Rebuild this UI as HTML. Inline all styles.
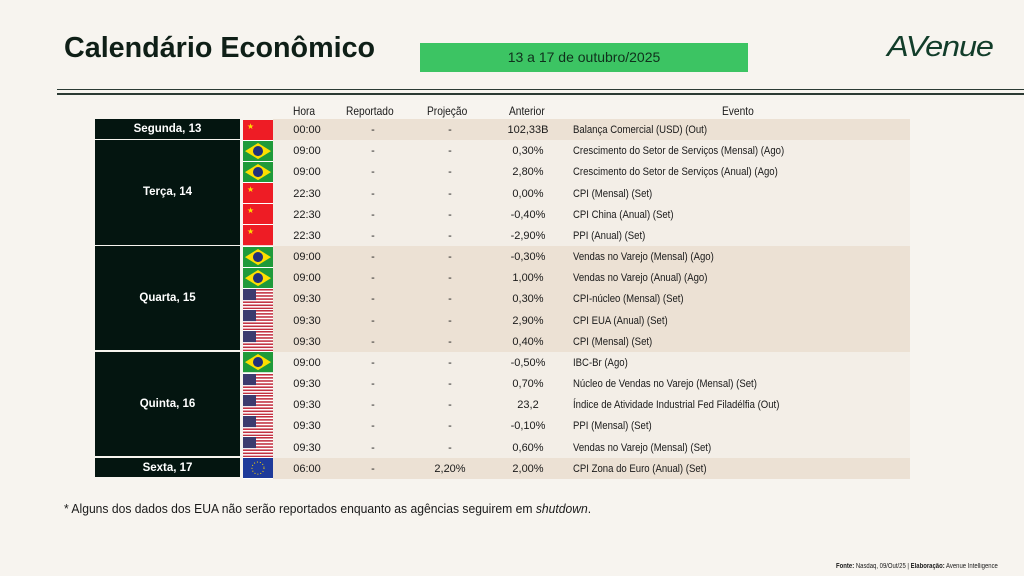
<!DOCTYPE html>
<html><head><meta charset="utf-8"><style>
body{margin:0;width:1024px;height:576px;background:#f7f4ef;font-family:"Liberation Sans",sans-serif;position:relative;overflow:hidden;color:#1a1a1a}
.a{position:absolute}
</style></head><body>
<div class="a" style="left:64px;top:32px;font-size:29px;font-weight:bold;color:#0f1f17;transform:scaleX(0.99);transform-origin:left">Calendário Econômico</div>
<div class="a" style="left:420px;top:43px;width:328px;height:29px;background:#3cc463;font-size:14px;line-height:29px;text-align:center;color:#10301c">13 a 17 de outubro/2025</div>
<div class="a" style="left:887px;top:31px;font-size:29px;font-style:italic;color:#123d2a;letter-spacing:-1px;transform:scaleX(1.12);transform-origin:left">AVenue</div>
<div class="a" style="left:57px;top:89px;width:967px;height:1px;background:#2b3a33"></div>
<div class="a" style="left:57px;top:93px;width:967px;height:2px;background:#2b3a33"></div>
<div id="tbl"></div>
<div class="a" style="left:64px;top:502px;font-size:12.5px;transform:scaleX(.97);transform-origin:left;white-space:nowrap">* Alguns dos dados dos EUA não serão reportados enquanto as agências seguirem em <i>shutdown</i>.</div>
<div class="a" style="left:836px;top:563px;font-size:7px;white-space:nowrap;transform:scaleX(.85);transform-origin:left"><b>Fonte:</b> Nasdaq, 09/Out/25 | <b>Elaboração:</b> Avenue Intelligence</div>
<script>
const days=[["Segunda, 13",1],["Terça, 14",5],["Quarta, 15",5],["Quinta, 16",5],["Sexta, 17",1]];
const flags=["cn","br","br","cn","cn","cn","br","br","us","us","us","br","us","us","us","us","eu"];
const hours=["00:00","09:00","09:00","22:30","22:30","22:30","09:00","09:00","09:30","09:30","09:30","09:00","09:30","09:30","09:30","09:30","06:00"];
const proj=["-","-","-","-","-","-","-","-","-","-","-","-","-","-","-","-","2,20%"];
const prev=["102,33B","0,30%","2,80%","0,00%","-0,40%","-2,90%","-0,30%","1,00%","0,30%","2,90%","0,40%","-0,50%","0,70%","23,2","-0,10%","0,60%","2,00%"];
const events=["Balança Comercial (USD) (Out)","Crescimento do Setor de Serviços (Mensal) (Ago)","Crescimento do Setor de Serviços (Anual) (Ago)","CPI (Mensal) (Set)","CPI China (Anual) (Set)","PPI (Anual) (Set)","Vendas no Varejo (Mensal) (Ago)","Vendas no Varejo (Anual) (Ago)","CPI-núcleo (Mensal) (Set)","CPI EUA (Anual) (Set)","CPI (Mensal) (Set)","IBC-Br (Ago)","Núcleo de Vendas no Varejo (Mensal) (Set)","Índice de Atividade Industrial Fed Filadélfia (Out)","PPI (Mensal) (Set)","Vendas no Varejo (Mensal) (Set)","CPI Zona do Euro (Anual) (Set)"];
const T=document.getElementById('tbl');
const y0=119,rh=(479-119)/17;
function el(html,style){const d=document.createElement('div');d.className='a';d.style.cssText=style;d.innerHTML=html;T.appendChild(d);return d;}
const heads=[["Hora",293],["Reportado",346],["Projeção",427],["Anterior",509],["Evento",722]];
heads.forEach(h=>{const d=el(h[0],`left:${h[1]}px;top:104px;font-size:12px;transform:scaleX(.85);transform-origin:left`);

});
const flagSvg={
cn:'<svg width="30" height="20"><rect width="30" height="20" fill="#ee1c25"/><text x="4" y="9" font-size="8" fill="#ffde00">★</text></svg>',
br:'<svg width="30" height="20"><rect width="30" height="20" fill="#1f9a3a"/><polygon points="15,2 28,10 15,18 2,10" fill="#fedf00"/><circle cx="15" cy="10" r="5" fill="#22307a"/></svg>',
us:'<svg width="30" height="20"><rect width="30" height="20" fill="#fff"/>'+[0,2,4,6,8,10,12].map(i=>`<rect y="${i*20/13}" width="30" height="${20/13}" fill="#c23040"/>`).join('')+'<rect width="13" height="11" fill="#3c3b6e"/></svg>',
eu:'<svg width="30" height="20"><rect width="30" height="20" fill="#1e3a9a"/><circle cx="15" cy="10" r="6" fill="none" stroke="#ffd700" stroke-width="1" stroke-dasharray="1 2"/></svg>'};
let r=0;
days.forEach((d,gi)=>{
 const top=y0+r*rh,h=d[1]*rh;
 const bg=gi%2==0?'#ece1d4':'#f3eee7';
 const rowbg=el('',`left:273px;top:${top}px;width:637px;height:${h}px;background:${bg}`);
 
 
 const dc=el(d[0],`left:95px;top:${top}px;width:145px;height:${h-1.5}px;background:#041510;color:#fff;font-size:11.5px;font-weight:bold;display:flex;align-items:center;justify-content:center`);
 
 
 for(let k=0;k<d[1];k++,r++){
  const ty=y0+r*rh;
  const f=el(flagSvg[flags[r]],`left:243px;top:${ty+0.5}px;width:30px;height:${rh-1}px;overflow:hidden;border-bottom:1px solid #fff`);
  f.firstChild.setAttribute('height',rh-1);f.firstChild.setAttribute('preserveAspectRatio','none');f.firstChild.setAttribute('viewBox','0 0 30 20');
  
  
  const cells=[[hours[r],288,38],["-",355,36],[proj[r],430,40],[prev[r],498,60]];
  cells.forEach((c,ci)=>{const e=el(c[0],`left:${c[1]}px;top:${ty+1}px;width:${c[2]}px;height:${rh}px;line-height:${rh}px;font-size:11px;text-align:center`);
   
   });
  const ev=el(events[r],`left:573px;top:${ty+1}px;height:${rh}px;line-height:${rh}px;font-size:11px;white-space:nowrap;transform:scaleX(.87);transform-origin:left`);
  
  
 }
});
</script>
</body></html>
